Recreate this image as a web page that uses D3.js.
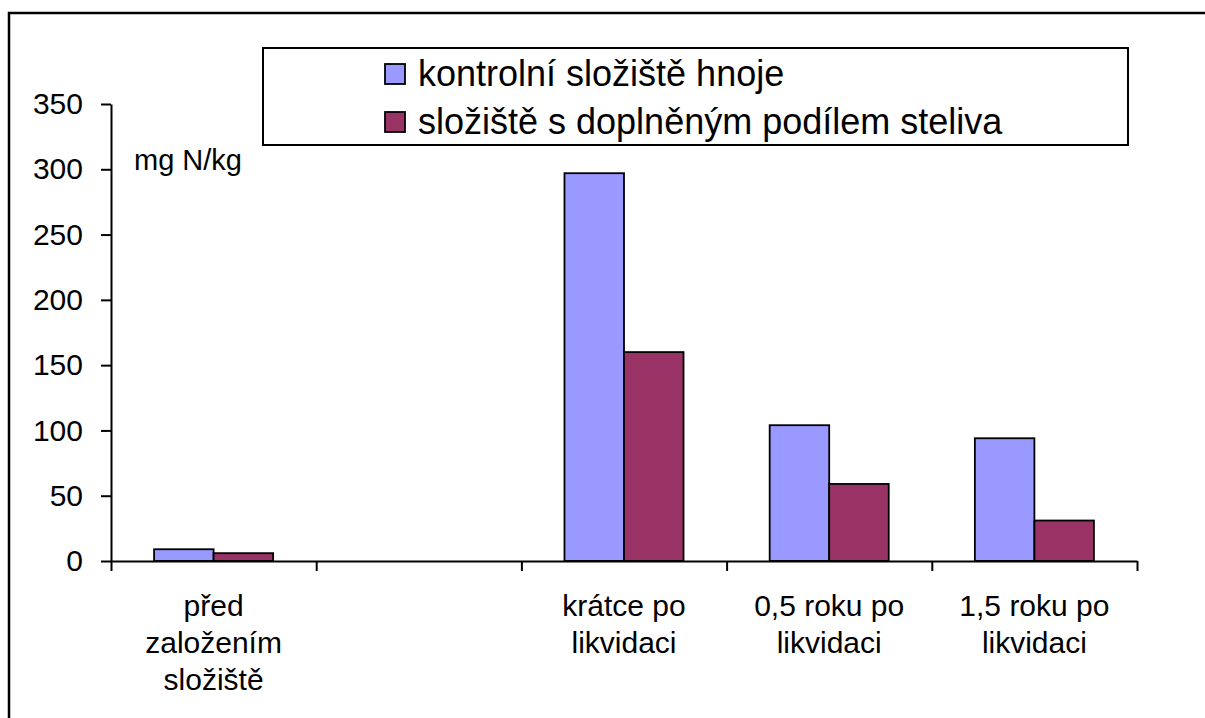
<!DOCTYPE html>
<html><head><meta charset="utf-8">
<script src="https://cdn.jsdelivr.net/npm/d3@7"></script>
<style>body{margin:0;background:#fff} text{font-family:"Liberation Sans",Arial,sans-serif;fill:#000}</style>
</head><body><svg id="c" width="1205" height="718"></svg>
<script>
const categoryKeys = ["c0","c1","c2","c3","c4"];
const categoryLabels = [["před","založením","složiště"],[],["krátce po","likvidaci"],["0,5 roku po","likvidaci"],["1,5 roku po","likvidaci"]];
const seriesNames = ["kontrolní složiště hnoje","složiště s doplněným podílem steliva"];
const controlValues = [9, null, 297, 104, 94];
const litterValues = [6, null, 160, 59, 31];
const yTicks = [0,50,100,150,200,250,300,350];
const unitLabel = "mg N/kg";
const colors = ["#9999FF","#993366"];

const svg = d3.select("#c");
const L = 111, R = 1137, T = 104, B = 561;

// outer frame
svg.append("path").attr("d","M9,718V13H1205").attr("fill","none").attr("stroke","#000").attr("stroke-width",2.5);

const x = d3.scaleBand().domain(categoryKeys).range([L,R]).paddingInner(0).paddingOuter(0);
const x1 = d3.scaleBand().domain([0,1]).range([0,x.bandwidth()]).paddingInner(0).paddingOuter(0.7236);
const y = d3.scaleLinear().domain([0,350]).range([B,T]);
const xb = d3.scaleLinear().domain([0,categoryKeys.length]).range([L,R]);

// bars
const series = [controlValues, litterValues];
series.forEach((vals,si)=>{
  svg.append("g").selectAll("rect").data(vals.map((v,i)=>({v,k:categoryKeys[i]})).filter(d=>d.v!=null))
    .join("rect")
    .attr("x",d=>x(d.k)+x1(si))
    .attr("y",d=>y(d.v))
    .attr("width",x1.bandwidth())
    .attr("height",d=>y(0)-y(d.v))
    .attr("fill",colors[si]).attr("stroke","#000").attr("stroke-width",1.8);
});

// y axis
const ya = svg.append("g").attr("transform",`translate(${L},0)`)
  .call(d3.axisLeft(y).tickValues(yTicks).tickSize(10).tickSizeOuter(0).tickPadding(18));
ya.selectAll("text").attr("font-size",30).attr("font-family","Liberation Sans, Arial, sans-serif");
ya.selectAll("line,path").attr("stroke","#000").attr("stroke-width",2);

// x axis
const xa = svg.append("g").attr("transform",`translate(0,${B})`)
  .call(d3.axisBottom(xb).tickValues(d3.range(categoryKeys.length+1)).tickSize(10).tickSizeOuter(0).tickFormat(""));
xa.selectAll("line,path").attr("stroke","#000").attr("stroke-width",2);

// category labels
categoryKeys.forEach((k,i)=>{
  const t = svg.append("text").attr("text-anchor","middle").attr("font-size",30)
    .attr("x",x(k)+x.bandwidth()/2).attr("y",616);
  categoryLabels[i].forEach((ln,j)=>{
    t.append("tspan").attr("x",x(k)+x.bandwidth()/2).attr("dy",j===0?0:36.8).text(ln);
  });
});

// unit label
svg.append("text").attr("x",134).attr("y",170).attr("font-size",29).text(unitLabel);

// legend
const lg = svg.append("g");
lg.append("rect").attr("x",263).attr("y",48).attr("width",865).attr("height",97)
  .attr("fill","#fff").attr("stroke","#000").attr("stroke-width",2);
seriesNames.forEach((n,i)=>{
  lg.append("rect").attr("x",385).attr("y",64+i*48).attr("width",20).attr("height",20)
    .attr("fill",colors[i]).attr("stroke","#000").attr("stroke-width",1.8);
  lg.append("text").attr("x",418).attr("y",86+i*48).attr("font-size",36).text(n);
});
</script></body></html>
